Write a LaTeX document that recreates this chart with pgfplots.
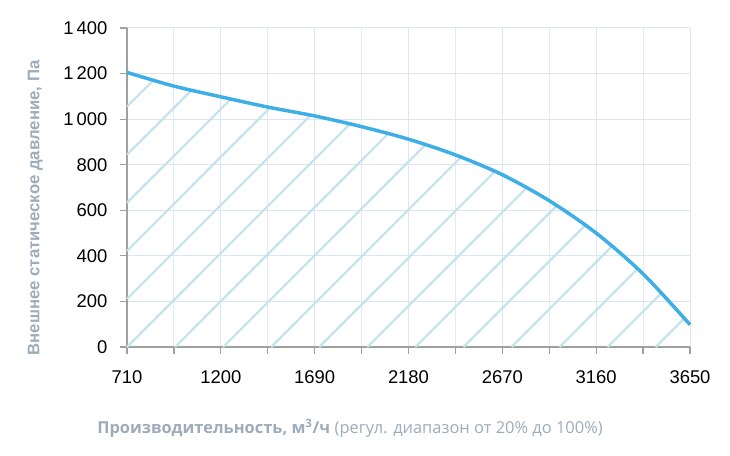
\documentclass[border=0pt]{standalone}
\usepackage{fontspec}
\setmainfont{Liberation Sans}
\newfontfamily\opensans{Open Sans}
\usepackage{pgfplots}
\pgfplotsset{compat=1.18}
\definecolor{curve}{HTML}{3DAEE6}
\definecolor{hatch}{HTML}{C6E2EE}
\definecolor{gridc}{HTML}{DCE6F2}
\definecolor{axc}{HTML}{A0A0A0}
\definecolor{labc}{HTML}{9DABBA}
\begin{document}
\begin{tikzpicture}
\begin{axis}[
  scale only axis,
  width=563bp, height=319bp,
  xmin=710, xmax=3650, ymin=0, ymax=1400,
  axis x line=bottom, axis y line=left,
  axis line style={axc, line width=1.2bp, -},
  xtick={710,1200,1690,2180,2670,3160,3650},
  minor xtick={955,1445,1935,2425,2915,3405},
  ytick={0,200,...,1400},
  grid=both,
  major grid style={gridc, line width=1bp},
  minor grid style={gridc!80, line width=1bp},
  tick style={axc, line width=1.2bp},
  major tick length=7bp, minor tick length=7bp,
  ytick pos=left, xtick pos=bottom,
  tick align=outside,
  /pgf/number format/assume math mode=true,
  /pgf/number format/1000 sep={\,},
  x tick label style={/pgf/number format/1000 sep={}, font=\fontsize{18.5}{20}\selectfont, yshift=-13bp},
  y tick label style={font=\fontsize{18.5}{20}\selectfont, xshift=-9bp},
  xlabel={{\opensans\bfseries Производительность, м\textsuperscript{3}/ч} {\opensans (регул. диапазон от 20\% до 100\%)}},
  xlabel style={at={(axis description cs:0.396,-0.254)}, anchor=center, font=\fontsize{16.5}{18}\selectfont, text=labc},
  ylabel={\bfseries Внешнее статическое давление, Па},
  ylabel style={at={(axis description cs:-0.163,0.436)}, anchor=center, rotate=0, font=\fontsize{16.8}{18}\selectfont, text=labc},
  unbounded coords=jump,
  clip=false,
]
\coordinate (bl) at (rel axis cs:0,0);
% hatch lines under the curve
\addplot[hatch, line width=2.2bp, line cap=butt] coordinates {
(710,1055) (848,1171) (nan,nan)
(710,844) (1047,1127) (nan,nan)
(710,633) (1252,1088) (nan,nan)
(710,422) (1458,1051) (nan,nan)
(710,211) (1669,1017) (nan,nan)
(710,0) (1874,979) (nan,nan)
(961,0) (2074,936) (nan,nan)
(1212,0) (2268,887) (nan,nan)
(1463,0) (2454,833) (nan,nan)
(1714,0) (2632,771) (nan,nan)
(1965,0) (2796,697) (nan,nan)
(2216,0) (2953,619) (nan,nan)
(2467,0) (3100,532) (nan,nan)
(2718,0) (3240,440) (nan,nan)
(2969,0) (3375,342) (nan,nan)
(3220,0) (3499,235) (nan,nan)
(3471,0) (3620,125)
};
\addplot[curve, line width=3.5bp, smooth] coordinates {
(710,1205) (955,1145) (1200,1098) (1445,1053) (1690,1014) (1935,967)
(2180,912) (2425,843) (2670,756) (2915,642) (3160,500) (3405,321) (3650,98)
};
\end{axis}
\pgfresetboundingbox
\path[use as bounding box] (bl) ++(-127bp,-109bp) rectangle ++(730bp,456bp);
\end{tikzpicture}
\end{document}
